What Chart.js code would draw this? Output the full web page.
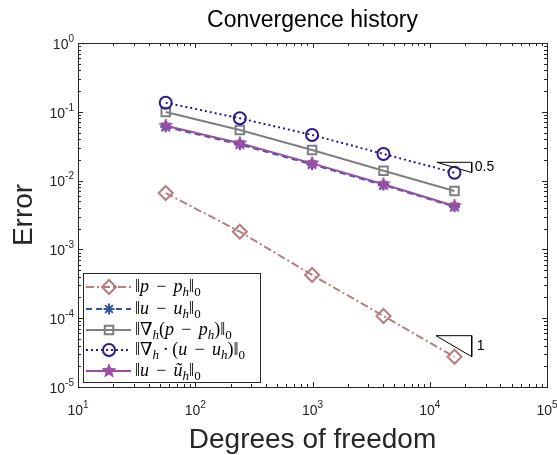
<!DOCTYPE html>
<html>
<head>
<meta charset="utf-8">
<script src="https://cdn.jsdelivr.net/npm/chart.js@4.4.1/dist/chart.umd.min.js"></script>
<style>
  html, body { margin: 0; padding: 0; background: #fff; }
  canvas { display: block; }
</style>
</head>
<body>
<canvas id="conv" width="557" height="455"></canvas>
<script>
// degrees of freedom on each mesh
var dof = [56, 240, 992, 4032, 16256];
// error norms
var errP      = [0.0066, 0.00181, 0.000425, 0.0001076, 0.0000275];
var errU      = [0.0605, 0.0336, 0.0172, 0.0086, 0.00418];
var errGradP  = [0.0993, 0.0544, 0.0279, 0.0139, 0.00706];
var errDivU   = [0.1356, 0.0805, 0.046, 0.0244, 0.0130];
var errUTilde = [0.0628, 0.0348, 0.0178, 0.00883, 0.00428];
// slope triangles
var tri05X = [11500, 22800, 22800, 11500];
var tri05Y = [0.01845, 0.01845, 0.0131, 0.01845];
var tri1X  = [11300, 22800, 22800, 11300];
var tri1Y  = [0.0000557, 0.0000557, 0.0000276, 0.0000557];
// axis ticks (exponents)
var xExp = [1, 2, 3, 4, 5];
var yExp = [0, -1, -2, -3, -4, -5];

function pts(xs, ys) {
  return xs.map(function(x, i) { return {x: x, y: ys[i]}; });
}

// filled pentagram marker
function makeStar(color, r) {
  var c = document.createElement('canvas');
  var s = Math.ceil(r * 2 + 4);
  c.width = s; c.height = s;
  var g = c.getContext('2d');
  starPath(g, s / 2, s / 2, r);
  g.fillStyle = color;
  g.fill();
  g.strokeStyle = color;
  g.lineWidth = 1;
  g.stroke();
  return c;
}
function starPath(g, cx, cy, r) {
  var ri = r * 0.42;
  g.beginPath();
  for (var k = 0; k < 10; k++) {
    var rr = k % 2 === 0 ? r : ri;
    var a = -Math.PI / 2 + k * Math.PI / 5;
    var px = cx + rr * Math.cos(a), py = cy + rr * Math.sin(a);
    if (k === 0) g.moveTo(px, py); else g.lineTo(px, py);
  }
  g.closePath();
}

var colP = '#B57D7D', colU = '#3553A3', colG = '#7F7F7F', colD = '#2B1A8E', colT = '#9A4EA3';
var starImg = makeStar(colT, 7);

var series = [
  {label: 'p', data: errP, color: colP, dash: [8, 3, 2, 3], style: 'rectRot', r: 7, order: 4},
  {label: 'u', data: errU, color: colU, dash: [6, 4], style: 'star', r: 5.5, order: 3},
  {label: 'g', data: errGradP, color: colG, dash: [], style: 'rect', r: 6, order: 2},
  {label: 'd', data: errDivU, color: colD, dash: [2, 3], style: 'circle', r: 6, order: 1},
  {label: 't', data: errUTilde, color: colT, dash: [], style: starImg, r: 7, order: 0}
];

var datasets = series.map(function(s) {
  return {
    label: s.label,
    data: pts(dof, s.data),
    borderColor: s.color,
    borderWidth: 2,
    borderDash: s.dash,
    pointStyle: s.style,
    pointRadius: s.r,
    pointBorderWidth: 2,
    pointBorderColor: s.color,
    pointBackgroundColor: 'rgba(0,0,0,0)',
    fill: false,
    tension: 0,
    order: s.order
  };
});
datasets.push({label: 'tri05', data: pts(tri05X, tri05Y), borderColor: '#000', borderWidth: 1, pointRadius: 0, fill: false, tension: 0, order: 5});
datasets.push({label: 'tri1', data: pts(tri1X, tri1Y), borderColor: '#000', borderWidth: 1, pointRadius: 0, fill: false, tension: 0, order: 5});

var M = '\u2009\u2009−\u2009\u2009';
var legendRows = [
  [['‖'], ['p', 'i'], [M], ['p', 'i'], ['h', 'is'], ['‖'], ['0', 's']],
  [['‖'], ['u', 'i'], [M], ['u', 'i'], ['h', 'is'], ['‖'], ['0', 's']],
  [['‖∇'], ['h', 'is'], ['('], ['p', 'i'], [M], ['p', 'i'], ['h', 'is'], [')‖'], ['0', 's']],
  [['‖∇'], ['h', 'is'], ['\u2009·\u2009('], ['u', 'i'], [M], ['u', 'i'], ['h', 'is'], [')‖'], ['0', 's']],
  [['‖'], ['u', 'i'], [M], ['ũ', 'i'], ['h', 'is'], ['‖'], ['0', 's']]
];

function drawPow(ctx, exp, x, y, align) {
  var base = '10', sup = String(exp);
  ctx.font = '14px "Liberation Sans", Arial, sans-serif';
  var wb = ctx.measureText(base).width;
  ctx.font = '10px "Liberation Sans", Arial, sans-serif';
  var ws = ctx.measureText(sup).width;
  var total = wb + ws;
  var x0 = align === 'right' ? x - total : x - total / 2;
  ctx.textAlign = 'left';
  ctx.textBaseline = 'middle';
  ctx.font = '14px "Liberation Sans", Arial, sans-serif';
  ctx.fillText(base, x0, y + 2);
  ctx.font = '10px "Liberation Sans", Arial, sans-serif';
  ctx.fillText(sup, x0 + wb, y - 4);
}

function drawRich(ctx, segs, x, y) {
  var cx = x;
  segs.forEach(function(s) {
    var f = s[1] || '';
    var sub = f.indexOf('s') >= 0;
    var size = sub ? 13 : 18;
    var it = f.indexOf('i') >= 0 ? 'italic ' : '';
    ctx.font = it + size + 'px "Liberation Serif", "DejaVu Serif", serif';
    ctx.textBaseline = 'alphabetic';
    ctx.textAlign = 'left';
    ctx.fillText(s[0], cx, sub ? y + 4 : y);
    cx += ctx.measureText(s[0]).width;
  });
}

function drawMarker(ctx, s, x, y) {
  ctx.save();
  ctx.strokeStyle = s.color;
  ctx.fillStyle = s.color;
  ctx.lineWidth = 2;
  ctx.setLineDash([]);
  ctx.beginPath();
  if (s.style === 'rectRot') {
    ctx.moveTo(x - s.r, y); ctx.lineTo(x, y - s.r); ctx.lineTo(x + s.r, y); ctx.lineTo(x, y + s.r); ctx.closePath();
    ctx.stroke();
  } else if (s.style === 'rect') {
    var h = s.r / Math.SQRT2;
    ctx.rect(x - h, y - h, 2 * h, 2 * h); ctx.stroke();
  } else if (s.style === 'circle') {
    ctx.arc(x, y, s.r, 0, Math.PI * 2); ctx.stroke();
  } else if (s.style === 'star') {
    for (var k = 0; k < 4; k++) {
      var a = k * Math.PI / 4;
      ctx.moveTo(x - s.r * Math.cos(a), y - s.r * Math.sin(a));
      ctx.lineTo(x + s.r * Math.cos(a), y + s.r * Math.sin(a));
    }
    ctx.stroke();
  } else {
    ctx.drawImage(s.style, x - s.style.width / 2, y - s.style.height / 2);
  }
  ctx.restore();
}

var matlabAxes = {
  id: 'matlabAxes',
  afterDatasetsDraw: function(chart) {
    var ctx = chart.ctx, a = chart.chartArea;
    var xs = chart.scales.x, ys = chart.scales.y;
    ctx.save();
    ctx.strokeStyle = '#262626';
    ctx.fillStyle = '#262626';
    ctx.lineWidth = 1;
    ctx.setLineDash([]);

    // inward ticks on all four sides
    ctx.beginPath();
    for (var e = 1; e < 5; e++) {
      for (var m = 1; m <= 9; m++) {
        var v = m * Math.pow(10, e);
        var px = Math.round(xs.getPixelForValue(v)) + 0.5;
        var len = m === 1 ? 5 : 3;
        ctx.moveTo(px, a.bottom); ctx.lineTo(px, a.bottom - len);
        ctx.moveTo(px, a.top); ctx.lineTo(px, a.top + len);
      }
    }
    for (var e2 = -5; e2 < 0; e2++) {
      for (var m2 = 1; m2 <= 9; m2++) {
        var v2 = m2 * Math.pow(10, e2);
        var py = Math.round(ys.getPixelForValue(v2)) + 0.5;
        var len2 = m2 === 1 ? 5 : 3;
        ctx.moveTo(a.left, py); ctx.lineTo(a.left + len2, py);
        ctx.moveTo(a.right, py); ctx.lineTo(a.right - len2, py);
      }
    }
    ctx.stroke();
    ctx.strokeRect(Math.round(a.left) + 0.5, Math.round(a.top) + 0.5, Math.round(a.right - a.left), Math.round(a.bottom - a.top));

    // tick labels
    xExp.forEach(function(e) {
      drawPow(ctx, e, xs.getPixelForValue(Math.pow(10, e)), a.bottom + 22, 'center');
    });
    yExp.forEach(function(e) {
      drawPow(ctx, e, a.left - 4, ys.getPixelForValue(Math.pow(10, e)), 'right');
    });

    // title and axis labels
    ctx.fillStyle = '#000';
    ctx.textAlign = 'center';
    ctx.textBaseline = 'middle';
    ctx.font = '23px "Liberation Sans", Arial, sans-serif';
    ctx.fillText('Convergence history', (a.left + a.right) / 2, 21);
    ctx.fillStyle = '#262626';
    ctx.font = '28px "Liberation Sans", Arial, sans-serif';
    ctx.fillText('Degrees of freedom', (a.left + a.right) / 2, 440);
    ctx.save();
    ctx.translate(24, (a.top + a.bottom) / 2);
    ctx.rotate(-Math.PI / 2);
    ctx.fillText('Error', 0, 0);
    ctx.restore();

    // slope labels
    ctx.fillStyle = '#000';
    ctx.textAlign = 'left';
    ctx.font = '14px "Liberation Sans", Arial, sans-serif';
    ctx.fillText('0.5', xs.getPixelForValue(tri05X[1]) + 3, (ys.getPixelForValue(tri05Y[1]) + ys.getPixelForValue(tri05Y[2])) / 2);
    ctx.fillText('1', xs.getPixelForValue(tri1X[1]) + 5, (ys.getPixelForValue(tri1Y[1]) + ys.getPixelForValue(tri1Y[2])) / 2);

    // legend
    var lx = 83, ly = 273, lw = 177, lh = 109;
    ctx.fillStyle = '#fff';
    ctx.fillRect(lx, ly, lw, lh);
    ctx.strokeStyle = '#262626';
    ctx.lineWidth = 1;
    ctx.strokeRect(lx + 0.5, ly + 0.5, lw, lh);
    var rowY = [287, 309, 330, 350, 371];
    series.forEach(function(s, i) {
      var y = rowY[i];
      ctx.save();
      ctx.strokeStyle = s.color;
      ctx.lineWidth = 2;
      ctx.setLineDash(s.dash);
      ctx.beginPath();
      ctx.moveTo(lx + 3, y); ctx.lineTo(lx + 48, y);
      ctx.stroke();
      ctx.restore();
      drawMarker(ctx, s, lx + 26, y);
      ctx.fillStyle = '#000';
      drawRich(ctx, legendRows[i], lx + 52, y + 5);
    });
    ctx.restore();
  }
};

new Chart(document.getElementById('conv'), {
  type: 'line',
  data: { datasets: datasets },
  options: {
    responsive: false,
    animation: false,
    devicePixelRatio: 1,
    layout: { padding: { left: 78, right: 10, top: 43, bottom: 68 } },
    plugins: { legend: { display: false }, tooltip: { enabled: false }, title: { display: false } },
    scales: {
      x: { type: 'logarithmic', min: 10, max: 100000, display: false },
      y: { type: 'logarithmic', min: 0.00001, max: 1, display: false }
    }
  },
  plugins: [matlabAxes]
});
</script>
</body>
</html>
